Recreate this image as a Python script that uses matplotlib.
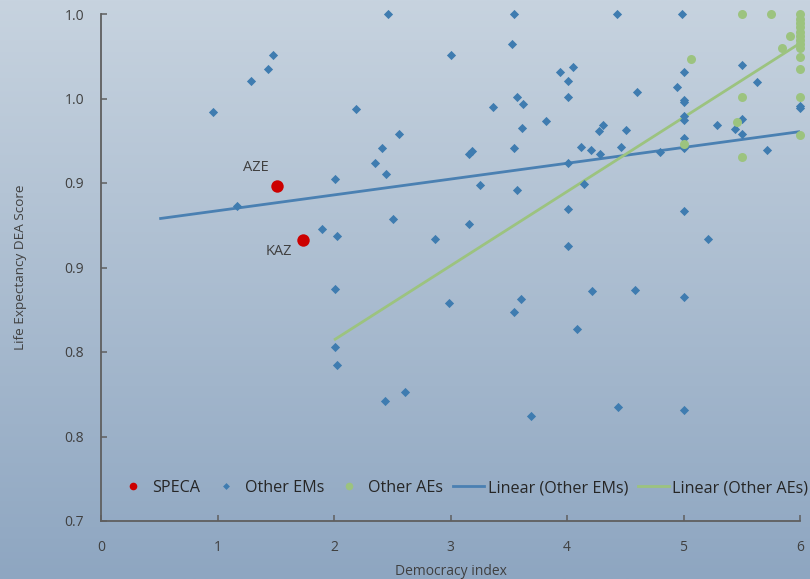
import matplotlib
matplotlib.use("Agg")
import matplotlib.pyplot as plt
import numpy as np
from matplotlib.colors import LinearSegmentedColormap
from matplotlib.lines import Line2D

plt.rcParams['font.family'] = ['Open Sans', 'DejaVu Sans']

# ---------------- data ----------------
speca_labels = ["AZE", "KAZ"]
speca_x = [1.508, 1.734]
speca_y = [0.8984, 0.8665]

em_x = [2.46, 3.00, 1.476, 1.434, 1.288, 0.964, 2.19, 2.558, 2.415, 2.349,
        2.446, 2.006, 1.17, 2.506, 1.894, 2.026, 2.867, 3.542, 4.429, 3.531,
        3.94, 4.052, 4.006, 4.006, 3.568, 3.62, 3.365, 3.823, 3.614, 4.306,
        4.277, 4.506, 3.542, 4.123, 4.209, 4.28, 4.461, 3.156, 3.185, 4.006,
        3.25, 3.568, 4.143, 3.159, 4.006, 4.006, 4.99, 5.505, 5.001, 5.634,
        4.944, 4.604, 5.0, 5.0, 6.0, 6.0, 5.0, 5.0, 5.505, 5.44,
        5.29, 5.505, 5.0, 5.0, 5.72, 4.798, 5.0, 5.21, 2.006, 2.006,
        2.026, 2.435, 2.612, 2.987, 3.542, 3.603, 4.212, 4.083, 4.584, 5.0,
        3.691, 4.44, 5.0]
em_y = [1.000, 0.976, 0.9757, 0.9673, 0.9602, 0.9422, 0.944, 0.929, 0.9209, 0.9116,
        0.9053, 0.9026, 0.8864, 0.8785, 0.873, 0.8685, 0.8667, 1.000, 1.000, 0.9821,
        0.9659, 0.9686, 0.9602, 0.9507, 0.9511, 0.9466, 0.9448, 0.9367, 0.9327, 0.9345,
        0.9308, 0.9314, 0.9205, 0.9215, 0.9197, 0.917, 0.9213, 0.917, 0.9188, 0.912,
        0.899, 0.8959, 0.8994, 0.8757, 0.8846, 0.8629, 1.000, 0.9696, 0.9659, 0.960,
        0.957, 0.9538, 0.9491, 0.948, 0.9456, 0.9444, 0.9396, 0.9373, 0.938, 0.9321,
        0.9345, 0.9292, 0.9268, 0.9205, 0.9197, 0.9185, 0.8833, 0.8671, 0.8373, 0.8031,
        0.7925, 0.771, 0.7763, 0.8288, 0.8239, 0.8315, 0.8361, 0.8136, 0.8369, 0.8325,
        0.762, 0.7675, 0.7655]

ae_x = [5.505, 5.751, 6.0, 6.0, 6.0, 6.0, 6.0, 6.0, 6.0, 6.0, 6.0,
        5.914, 5.848, 6.0, 5.062, 6.0, 5.505, 6.0, 5.456, 6.0, 5.0, 5.505]
ae_y = [1.000, 1.000, 1.000, 0.997, 0.9947, 0.9923, 0.9893, 0.987, 0.9846, 0.9822, 0.9799,
        0.9872, 0.9797, 0.9747, 0.9732, 0.9673, 0.9507, 0.951, 0.9363, 0.9282, 0.9231, 0.9152]

# trend lines (endpoints)
em_trend_x = [0.5, 6.0]
em_trend_y = [0.8789, 0.9304]
ae_trend_x = [2.0, 6.0]
ae_trend_y = [0.8071, 0.9827]

x_ticks = [0, 1, 2, 3, 4, 5, 6]
y_ticks = [0.70, 0.75, 0.80, 0.85, 0.90, 0.95, 1.00]
y_tick_labels = ["0.7", "0.8", "0.8", "0.9", "0.9", "1.0", "1.0"]

# ---------------- styling ----------------
C_RED = "#cc0000"
C_BLUE = "#3f7cb0"
C_GREEN = "#9cc37f"
C_TEXT = "#404040"
C_AXIS = "#5f5f5f"

fig = plt.figure(figsize=(8.10, 5.79), dpi=100)

# gradient background
bg = fig.add_axes([0, 0, 1, 1], zorder=-10)
cmap = LinearSegmentedColormap.from_list("bg", ["#c7d3df", "#8ea6c1"])
grad = np.linspace(0, 1, 256).reshape(-1, 1)
bg.imshow(grad, aspect="auto", cmap=cmap, extent=[0, 1, 0, 1], origin="upper")
bg.set_axis_off()

ax = fig.add_axes([101/810, 1 - 521/579, 699/810, 507/579])
ax.patch.set_alpha(0)

ax.plot(em_trend_x, em_trend_y, color="#4a80b2", lw=2.0, zorder=2, solid_capstyle="butt")
ax.plot(ae_trend_x, ae_trend_y, color=C_GREEN, lw=2.0, zorder=2, solid_capstyle="butt")

ax.scatter(em_x, em_y, marker="D", s=22, color=C_BLUE, linewidths=0, zorder=3, clip_on=False)
ax.scatter(ae_x, ae_y, marker="o", s=42, color=C_GREEN, linewidths=0, zorder=3, clip_on=False)
ax.scatter(speca_x, speca_y, marker="o", s=80, color=C_RED, linewidths=0, zorder=4)

offsets = [(-21, 18), (-24, -12)]
for lab, x, y, off in zip(speca_labels, speca_x, speca_y, offsets):
    ax.annotate(lab, (x, y), xytext=off, textcoords="offset pixels",
                ha="center", va="center", fontsize=10.5, color=C_TEXT)

ax.set_xlim(0, 6)
ax.set_ylim(0.70, 1.00)
ax.set_xticks(x_ticks)
ax.set_yticks(y_ticks)
ax.set_yticklabels(y_tick_labels)

for s in ["top", "right"]:
    ax.spines[s].set_visible(False)
for s in ["left", "bottom"]:
    ax.spines[s].set_color(C_AXIS)
    ax.spines[s].set_linewidth(1.3)

ax.tick_params(axis="both", direction="in", length=4, width=1.1, color=C_AXIS,
               labelcolor=C_TEXT, labelsize=10)
ax.tick_params(axis="x", pad=14)
ax.tick_params(axis="y", pad=12)

ax.set_xlabel("Democracy index", fontsize=10, color=C_TEXT, labelpad=6)
ax.set_ylabel("Life Expectancy DEA Score", fontsize=9.7, color=C_TEXT, labelpad=27)

handles = [
    Line2D([], [], ls="none", marker="o", ms=5.5, color=C_RED, mew=0),
    Line2D([], [], ls="none", marker="D", ms=3.5, color=C_BLUE, mew=0),
    Line2D([], [], ls="none", marker="o", ms=5.5, color=C_GREEN, mew=0),
    Line2D([], [], color="#4a80b2", lw=2.0),
    Line2D([], [], color=C_GREEN, lw=2.0),
]
labels = ["SPECA", "Other EMs", "Other AEs", "Linear (Other EMs)", "Linear (Other AEs)"]
leg = ax.legend(handles, labels, ncol=5, loc="center", bbox_to_anchor=(0.518, 0.065),
                frameon=False, fontsize=11.6, handlelength=1.95, handletextpad=0.2,
                columnspacing=0.6, borderaxespad=0)
for t in leg.get_texts():
    t.set_color("#262626")

fig.savefig("out.png", dpi=100)
